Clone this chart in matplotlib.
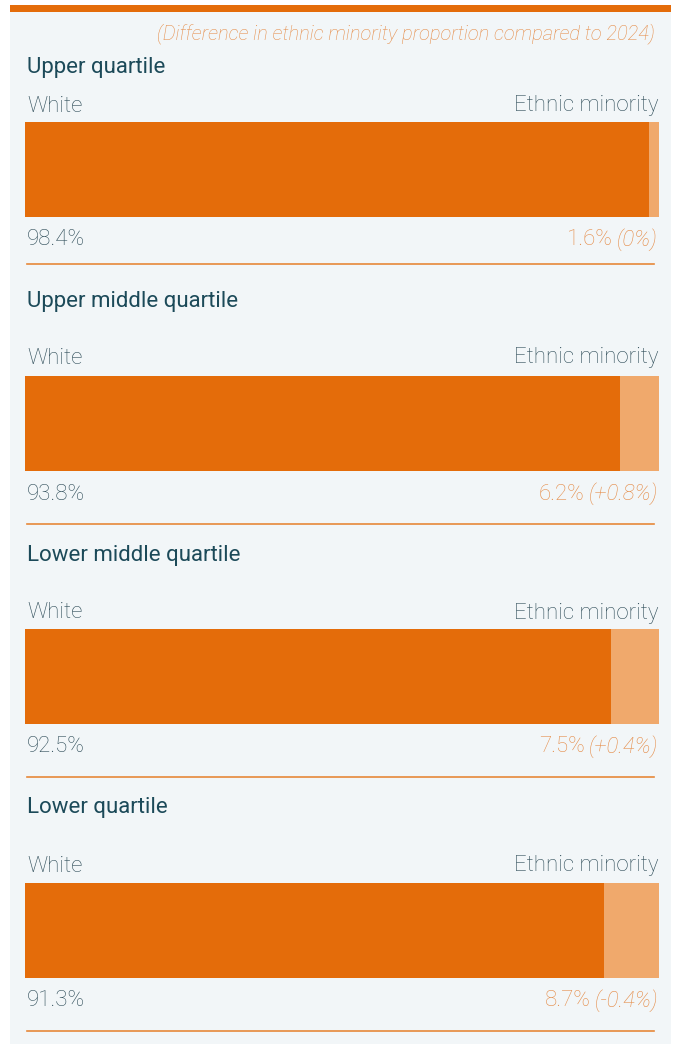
import matplotlib.pyplot as plt
from matplotlib.patches import Rectangle

quartiles = ['Upper quartile', 'Upper middle quartile',
             'Lower middle quartile', 'Lower quartile']
white_pct = [98.4, 93.8, 92.5, 91.3]
minority_pct = [1.6, 6.2, 7.5, 8.7]
change_labels = ['0%', '+0.8%', '+0.4%', '-0.4%']

DARK = '#e46c0a'
LIGHT = '#f0a96c'
TEXT_ORANGE = '#e58c48'
TITLE = '#1c4a59'
LABEL = '#2e4c58'
PANEL = '#f2f6f8'

W, H = 676, 1044
fig = plt.figure(figsize=(W / 100, H / 100), dpi=100)
fig.patch.set_facecolor('white')
plt.rcParams['font.family'] = ['Roboto', 'DejaVu Sans']


def fx(px):
    return px / W


def fy(py):
    return 1 - py / H


# background panel and top rule
fig.patches.append(Rectangle((fx(10), 0), fx(661), fy(12), transform=fig.transFigure,
                             facecolor=PANEL, edgecolor='none', zorder=-2))
fig.patches.append(Rectangle((fx(10), fy(12)), fx(661), 7 / H, transform=fig.transFigure,
                             facecolor=DARK, edgecolor='none', zorder=-1))

fig.text(fx(655), fy(34), '(Difference in ethnic minority proportion compared to 2024)',
         ha='right', va='center', fontsize=14.5, style='italic', color=TEXT_ORANGE,
         fontweight='light')

title_y = [68, 302, 555, 808]
label_y = [106, 358, 613, 866]
bar_top = [122, 376, 629, 883]
bar_h = 95
left, right = 25, 659

for i, name in enumerate(quartiles):
    fig.text(fx(27), fy(title_y[i]), name, ha='left', va='center',
             fontsize=16, color=TITLE, fontweight='normal')
    fig.text(fx(27), fy(label_y[i]), 'White', ha='left', va='center',
             fontsize=16, color=LABEL, fontweight='light')
    fig.text(fx(658), fy(label_y[i]), 'Ethnic minority', ha='right', va='center',
             fontsize=16, color=LABEL, fontweight='light')

    ax = fig.add_axes([fx(left), fy(bar_top[i] + bar_h), fx(right - left), bar_h / H])
    ax.barh(0, white_pct[i], height=1, color=DARK, align='edge')
    ax.barh(0, minority_pct[i], left=white_pct[i], height=1, color=LIGHT, align='edge')
    ax.set_xlim(0, 100)
    ax.set_ylim(0, 1)
    ax.axis('off')

    val_y = bar_top[i] + bar_h + 23
    fig.text(fx(27), fy(val_y), f'{white_pct[i]}%', ha='left', va='center',
             fontsize=16, color=LABEL, fontweight='light')
    t = fig.text(fx(658), fy(val_y), f'({change_labels[i]})', ha='right', va='center',
                 fontsize=16, color=TEXT_ORANGE, style='italic', fontweight='light')
    fig.canvas.draw()
    bb = t.get_window_extent()
    fig.text(bb.x0 / W - fx(4), fy(val_y), f'{minority_pct[i]}%', ha='right', va='center',
             fontsize=16, color=TEXT_ORANGE, fontweight='light')

    sep_y = bar_top[i] + bar_h + 47 if i == 0 else bar_top[i] + bar_h + 53
    fig.add_artist(plt.Line2D([fx(27), fx(654)], [fy(sep_y), fy(sep_y)],
                              transform=fig.transFigure, color=DARK, lw=1.2, alpha=0.8))

fig.savefig('out.png', dpi=100, facecolor=fig.get_facecolor())
